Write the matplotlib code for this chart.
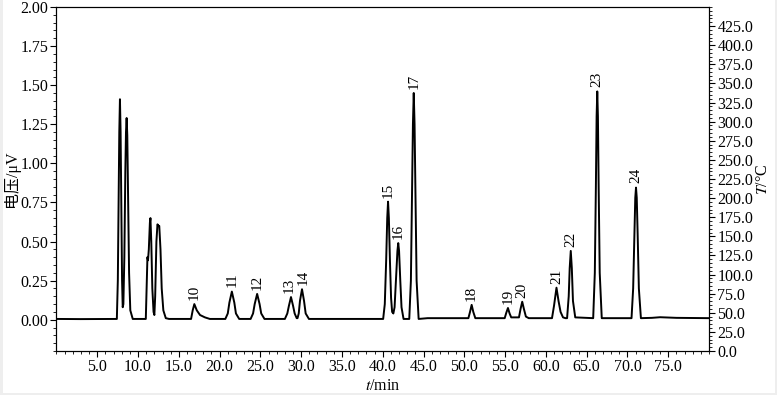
import matplotlib
matplotlib.use('Agg')
import matplotlib.pyplot as plt
from matplotlib.ticker import MultipleLocator, FormatStrFormatter
from matplotlib.patches import Rectangle
import numpy as np

plt.rcParams['font.family'] = ['Liberation Serif', 'Noto Sans CJK SC']
plt.rcParams['mathtext.fontset'] = 'stix'

# traced chromatogram points (t in min, signal in uV)
t_pts = [0.0, 3.0, 7.0, 7.40, 7.52, 7.62, 7.70, 7.78, 7.86, 7.94, 8.04, 8.12,
         8.20, 8.32, 8.44, 8.52, 8.60, 8.68, 8.78, 8.90, 9.05, 9.35,
         10.95, 11.08, 11.15, 11.22, 11.32, 11.45, 11.52, 11.62, 11.75, 11.90,
         12.00, 12.10, 12.25, 12.38, 12.50, 12.60, 12.75, 12.90, 13.10, 13.40, 13.80,
         16.50, 16.70, 16.90, 17.20, 17.60, 18.20, 18.80,
         20.70, 21.00, 21.20, 21.50, 21.80, 22.00, 22.40,
         23.80, 24.10, 24.30, 24.60, 24.90, 25.10, 25.50,
         28.00, 28.30, 28.50, 28.75, 29.00, 29.20, 29.45,
         29.55, 29.70, 29.85, 30.10, 30.35, 30.55, 30.95,
         40.05, 40.25, 40.42, 40.55, 40.65, 40.75, 40.88, 41.02, 41.15, 41.30,
         41.45, 41.65, 41.80, 41.90, 42.00, 42.15, 42.30, 42.55,
         43.25, 43.45, 43.58, 43.70, 43.80, 43.90, 44.02, 44.15, 44.40,
         45.50, 50.50, 50.70, 50.90, 51.10, 51.35,
         54.95, 55.15, 55.35, 55.55, 55.75,
         56.70, 56.90, 57.10, 57.30, 57.55, 57.90,
         60.75, 61.00, 61.30, 61.55, 61.80, 62.10, 62.40,
         62.60, 62.80, 62.92, 63.05, 63.18, 63.32, 63.60,
         65.80, 66.00, 66.13, 66.22, 66.30, 66.38, 66.47, 66.60, 66.85,
         70.50, 70.70, 70.85, 70.96, 71.05, 71.14, 71.25, 71.40, 71.65,
         73.00, 74.00, 76.00, 80.00]
v_pts = [0.005, 0.004, 0.005, 0.005, 0.25, 0.75, 1.20, 1.41, 1.20, 0.75, 0.25, 0.08,
         0.10, 0.40, 0.95, 1.20, 1.29, 1.18, 0.80, 0.30, 0.06, 0.005,
         0.005, 0.25, 0.40, 0.38, 0.45, 0.62, 0.65, 0.50, 0.20, 0.05,
         0.03, 0.15, 0.50, 0.61, 0.60, 0.60, 0.45, 0.20, 0.06, 0.01, 0.005,
         0.005, 0.06, 0.10, 0.06, 0.03, 0.015, 0.005,
         0.005, 0.04, 0.11, 0.18, 0.11, 0.04, 0.005,
         0.005, 0.04, 0.10, 0.165, 0.10, 0.04, 0.005,
         0.005, 0.04, 0.09, 0.145, 0.09, 0.04, 0.01,
         0.01, 0.04, 0.12, 0.195, 0.12, 0.04, 0.005,
         0.005, 0.10, 0.38, 0.65, 0.755, 0.65, 0.38, 0.14, 0.05, 0.04,
         0.08, 0.28, 0.44, 0.49, 0.44, 0.25, 0.08, 0.005,
         0.005, 0.25, 0.75, 1.25, 1.45, 1.25, 0.75, 0.25, 0.005,
         0.01, 0.01, 0.05, 0.095, 0.05, 0.01,
         0.01, 0.045, 0.075, 0.04, 0.015,
         0.015, 0.07, 0.115, 0.07, 0.02, 0.01,
         0.01, 0.09, 0.205, 0.12, 0.05, 0.015, 0.01,
         0.01, 0.15, 0.33, 0.44, 0.33, 0.12, 0.015,
         0.01, 0.30, 0.85, 1.30, 1.46, 1.30, 0.85, 0.30, 0.01,
         0.01, 0.20, 0.55, 0.78, 0.845, 0.78, 0.55, 0.20, 0.01,
         0.012, 0.016, 0.012, 0.01]

peak_labels = ['10', '11', '12', '13', '14', '15', '16', '17', '18',
               '19', '20', '21', '22', '23', '24']
peak_t = [16.9, 21.5, 24.6, 28.75, 30.1, 40.65, 41.9, 43.8, 50.9,
          55.35, 57.1, 61.3, 63.05, 66.3, 71.05]
peak_v = [0.10, 0.18, 0.165, 0.145, 0.195, 0.755, 0.49, 1.45, 0.095,
          0.075, 0.115, 0.205, 0.44, 1.46, 0.845]

fig = plt.figure(figsize=(7.77, 3.95), dpi=100)
fig.patch.set_facecolor('#eeeeee')
fig.patches.append(Rectangle((0.004, 0.006), 0.993, 0.994, transform=fig.transFigure,
                             facecolor='white', edgecolor='none', zorder=-10))
ax = fig.add_axes([0.0727, 0.1114, 0.8398, 0.8709])

ax.plot(t_pts, v_pts, color='black', lw=1.4)
nudge = {'13': -1.5, '14': 1.0}  # keep the two close labels apart
for lab, t, v in zip(peak_labels, peak_t, peak_v):
    ax.annotate(lab, (t, v), xytext=(nudge.get(lab, 0), 3), textcoords='offset points',
                rotation=90, ha='center', va='bottom', fontsize=11)

ax.set_xlim(0, 80)
ax.set_ylim(-0.2, 2.0)
ax.set_xticks(np.arange(5, 80, 5))
ax.xaxis.set_major_formatter(FormatStrFormatter('%.1f'))
ax.xaxis.set_minor_locator(MultipleLocator(1))
ax.set_yticks(np.arange(0, 2.01, 0.25))
ax.yaxis.set_major_formatter(FormatStrFormatter('%.2f'))
ax.yaxis.set_minor_locator(MultipleLocator(0.05))
ax.tick_params(which='major', length=4, width=0.8, labelsize=11.5, pad=2)
ax.tick_params(which='minor', length=2.2, width=0.6)
ax.set_xlabel(r'$\it{t}$/min', fontsize=11.5, labelpad=2)
ax.set_ylabel('电压/μV', fontsize=11.5, labelpad=0)

ax2 = ax.twinx()
ax2.set_ylim(0, 450)
ax2.set_yticks(np.arange(0, 426, 25))
ax2.yaxis.set_major_formatter(FormatStrFormatter('%.1f'))
ax2.yaxis.set_minor_locator(MultipleLocator(5))
ax2.tick_params(which='major', length=4, width=0.8, labelsize=11.5, pad=2)
ax2.tick_params(which='minor', length=2.2, width=0.6)
ax2.set_ylabel(r'$\it{T}$/°C', fontsize=11.5, labelpad=1)

fig.savefig('out.png', dpi=100)
